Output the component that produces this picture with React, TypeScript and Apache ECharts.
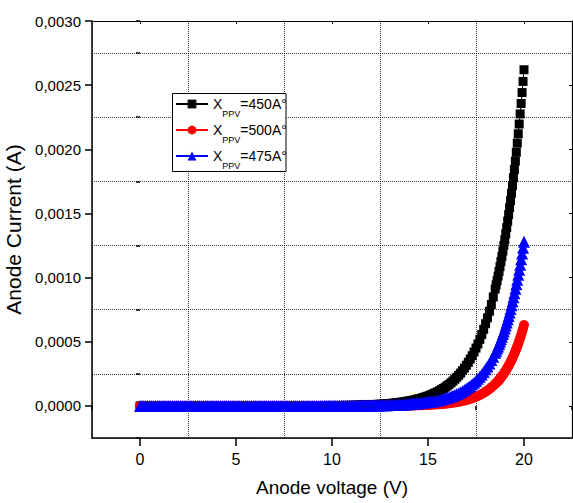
import React, { useEffect, useRef } from "react";
import * as echarts from "echarts";

// Axis ticks
const voltageTicks = [0, 5, 10, 15, 20];
const currentTicks = [0, 0.0005, 0.001, 0.0015, 0.002, 0.0025, 0.003];

// Series: PPV layer thickness (Å)
const thicknesses = ["450", "500", "475"];
const seriesColors = ["#000000", "#ff0000", "#0000ff"];
const seriesSymbols = ["rect", "circle", "triangle"];
const symbolSizes = [9, 10, 12];

// Voltage sweep: 0 – 18.5 V in 0.1 V steps, then 18.55 – 20 V in 0.05 V steps
const coarseStepV = 0.1;
const coarseCount = 186;
const fineStartV = 18.5;
const fineStepV = 0.05;

// Anode current in µA, one value per sweep point
const current450uA = [
  0, 0, 0, 0, 0, 0, 0, 0, 0, 0,
  0, 0, 0, 0, 0, 0, 0, 0, 0, 0,
  0, 0, 0, 0, 0, 0, 0, 0, 0, 0,
  0, 0, 0, 0, 0, 0, 0, 0, 0, 0,
  0, 0, 0, 0, 0, 0, 0, 0, 0, 0,
  0, 0, 0, 0, 0, 0, 0, 0, 0, 0,
  0, 0, 0, 0, 0, 0, 0, 0, 0, 0,
  0, 0, 0, 0, 0, 0, 0, 0, 0, 0,
  1, 1, 1, 1, 1, 1, 1, 1, 1, 1,
  1, 1, 1, 1, 2, 2, 2, 2, 2, 2,
  2, 2, 3, 3, 3, 3, 4, 4, 4, 4,
  5, 5, 5, 6, 6, 7, 7, 8, 8, 9,
  9, 10, 11, 12, 12, 13, 14, 15, 16, 18,
  19, 20, 22, 23, 25, 27, 29, 31, 33, 36,
  38, 41, 44, 47, 51, 55, 58, 63, 67, 72,
  77, 83, 89, 96, 103, 110, 118, 127, 136, 146,
  157, 168, 180, 194, 208, 223, 239, 256, 275, 295,
  317, 340, 365, 391, 420, 451, 483, 519, 556, 597,
  641, 687, 738, 791, 849, 911,
  944, 977, 1012, 1049, 1086, 1125, 1166, 1207, 1251, 1295,
  1342, 1390, 1440, 1491, 1545, 1600, 1658, 1717, 1779, 1842,
  1908, 1977, 2048, 2121, 2197, 2276, 2357, 2442, 2529, 2620,
];

const current500uA = [
  0, 0, 0, 0, 0, 0, 0, 0, 0, 0,
  0, 0, 0, 0, 0, 0, 0, 0, 0, 0,
  0, 0, 0, 0, 0, 0, 0, 0, 0, 0,
  0, 0, 0, 0, 0, 0, 0, 0, 0, 0,
  0, 0, 0, 0, 0, 0, 0, 0, 0, 0,
  0, 0, 0, 0, 0, 0, 0, 0, 0, 0,
  0, 0, 0, 0, 0, 0, 0, 0, 0, 0,
  0, 0, 0, 0, 0, 0, 0, 0, 0, 0,
  0, 0, 0, 0, 0, 0, 0, 0, 0, 0,
  0, 0, 0, 0, 0, 0, 0, 0, 0, 0,
  0, 0, 0, 0, 0, 0, 0, 0, 0, 0,
  0, 0, 0, 0, 0, 0, 0, 0, 1, 1,
  1, 1, 1, 1, 1, 1, 1, 1, 1, 1,
  1, 2, 2, 2, 2, 2, 2, 3, 3, 3,
  3, 4, 4, 4, 5, 5, 6, 6, 7, 7,
  8, 9, 10, 11, 12, 13, 14, 15, 16, 18,
  19, 21, 23, 25, 28, 30, 33, 36, 39, 43,
  46, 51, 55, 60, 66, 72, 78, 85, 93, 101,
  111, 121, 132, 144, 157, 171,
  179, 186, 195, 203, 212, 222, 232, 242, 253, 264,
  276, 288, 301, 314, 328, 343, 358, 374, 391, 408,
  426, 445, 465, 485, 507, 529, 553, 578, 603, 630,
];

const current475uA = [
  0, 0, 0, 0, 0, 0, 0, 0, 0, 0,
  0, 0, 0, 0, 0, 0, 0, 0, 0, 0,
  0, 0, 0, 0, 0, 0, 0, 0, 0, 0,
  0, 0, 0, 0, 0, 0, 0, 0, 0, 0,
  0, 0, 0, 0, 0, 0, 0, 0, 0, 0,
  0, 0, 0, 0, 0, 0, 0, 0, 0, 0,
  0, 0, 0, 0, 0, 0, 0, 0, 0, 0,
  0, 0, 0, 0, 0, 0, 0, 0, 0, 0,
  0, 0, 0, 0, 0, 0, 0, 0, 0, 0,
  0, 0, 0, 0, 0, 0, 1, 1, 1, 1,
  1, 1, 1, 1, 1, 1, 1, 1, 1, 1,
  2, 2, 2, 2, 2, 2, 2, 3, 3, 3,
  3, 3, 4, 4, 4, 5, 5, 5, 6, 6,
  7, 7, 8, 8, 9, 10, 10, 11, 12, 13,
  14, 15, 16, 18, 19, 21, 22, 24, 26, 28,
  30, 32, 35, 37, 40, 43, 47, 51, 54, 59,
  63, 68, 74, 79, 86, 92, 99, 107, 115, 124,
  134, 145, 156, 168, 181, 195, 211, 227, 245, 264,
  285, 307, 331, 357, 384, 414,
  430, 447, 464, 482, 500, 519, 539, 560, 581, 604,
  627, 651, 676, 701, 728, 756, 785, 815, 847, 879,
  913, 948, 984, 1022, 1061, 1101, 1144, 1187, 1233, 1280,
];

const seriesCurrents = [current450uA, current500uA, current475uA];

const TICK_FONT = "'Liberation Sans', Arial, sans-serif";
const TITLE_FONT = "'Liberation Sans', Arial, sans-serif";

function sweepVoltage(index: number): number {
  if (index < coarseCount) return Math.round(index * coarseStepV * 100) / 100;
  return Math.round((fineStartV + (index - coarseCount + 1) * fineStepV) * 100) / 100;
}

function buildOption() {
  const gridLine = { show: true, lineStyle: { color: "#3a3a3a", type: [1, 1] as any, width: 1 } };
  const axisLine = { show: true, onZero: false, lineStyle: { color: "#000", width: 1.5 } };

  const series = thicknesses.map((t, s) => ({
    name: t,
    type: "line" as const,
    xAxisIndex: 0,
    yAxisIndex: 0,
    symbol: seriesSymbols[s],
    symbolSize: symbolSizes[s],
    showSymbol: true,
    showAllSymbol: true,
    color: seriesColors[s],
    itemStyle: { color: seriesColors[s] },
    lineStyle: { color: seriesColors[s], width: 1 },
    data: seriesCurrents[s].map((uA, i) => [sweepVoltage(i), uA * 1e-6]),
    z: 2 + s,
  }));

  return {
    animation: false,
    backgroundColor: "#ffffff",
    grid: { left: 92, right: 1, top: 21, bottom: 65, containLabel: false, outerBoundsMode: "none" },
    xAxis: [
      {
        type: "value",
        position: "bottom",
        min: -2.5,
        max: 22.5,
        axisLine,
        axisTick: { show: true, customValues: voltageTicks, length: 8, lineStyle: { color: "#000", width: 1.5 } },
        axisLabel: {
          show: true,
          customValues: voltageTicks,
          margin: 13,
          color: "#000",
          fontFamily: TICK_FONT,
          fontSize: 16,
          formatter: (v: number) => String(v),
        },
        splitLine: { show: false },
        name: "Anode voltage (V)",
        nameLocation: "middle",
        nameGap: 40,
        nameTextStyle: { color: "#000", fontFamily: TITLE_FONT, fontSize: 19 },
      },
      {
        type: "value",
        position: "bottom",
        min: -2.5,
        max: 22.5,
        interval: 5,
        axisLine: { show: false },
        axisTick: { show: true, length: 4, lineStyle: { color: "#000", width: 1.5 } },
        axisLabel: { show: false },
        splitLine: gridLine,
      },
      {
        type: "value",
        position: "top",
        min: -2.5,
        max: 22.5,
        axisLine: { ...axisLine, lineStyle: { color: "#000", width: 1.2 } },
        axisTick: { show: true, inside: true, customValues: voltageTicks, length: 3, lineStyle: { color: "#000" } },
        axisLabel: { show: false },
        splitLine: { show: false },
      },
    ],
    yAxis: [
      {
        type: "value",
        position: "left",
        min: -0.00025,
        max: 0.003,
        axisLine,
        axisTick: { show: true, customValues: currentTicks, length: 7, lineStyle: { color: "#000", width: 1.5 } },
        axisLabel: {
          show: true,
          customValues: currentTicks,
          margin: 11,
          color: "#000",
          fontFamily: TICK_FONT,
          fontSize: 15,
          formatter: (v: number) => v.toFixed(4).replace(".", ","),
        },
        splitLine: { show: false },
        name: "Anode Current (A)",
        nameLocation: "middle",
        nameGap: 52,
        nameRotate: 90,
        nameTextStyle: { color: "#000", fontFamily: TITLE_FONT, fontSize: 21 },
      },
      {
        type: "value",
        position: "left",
        min: -0.00025,
        max: 0.003,
        interval: 0.0005,
        axisLine: { show: false },
        axisTick: { show: true, length: 4, lineStyle: { color: "#000", width: 1.5 } },
        axisLabel: { show: false },
        splitLine: gridLine,
      },
      {
        type: "value",
        position: "right",
        min: -0.00025,
        max: 0.003,
        axisLine: { ...axisLine, lineStyle: { color: "#000", width: 1.2 } },
        axisTick: { show: true, inside: true, customValues: currentTicks, length: 3, lineStyle: { color: "#000" } },
        axisLabel: { show: false },
        splitLine: { show: false },
      },
    ],
    legend: {
      orient: "vertical",
      left: 175,
      top: 90,
      padding: 0,
      itemWidth: 32,
      itemHeight: 11,
      itemGap: -2,
      z: 5,
      data: thicknesses,
      formatter: (name: string) => `{x|X}{s|PPV}{v|=${name}A°}`,
      textStyle: {
        color: "#000",
        rich: {
          x: { fontFamily: TICK_FONT, fontSize: 14, color: "#000", lineHeight: 20 },
          s: { fontFamily: TICK_FONT, fontSize: 9, color: "#000", lineHeight: 10, padding: [19, 0, 0, 0] },
          v: { fontFamily: TICK_FONT, fontSize: 14, color: "#000", lineHeight: 20 },
        },
      },
    },
    graphic: [
      {
        type: "rect",
        z: 4,
        shape: { x: 172.5, y: 93.5, width: 113.5, height: 78 },
        style: { fill: "#ffffff", stroke: "#000000", lineWidth: 1 },
      },
    ],
    series,
  };
}

export default function App() {
  const ref = useRef<HTMLDivElement>(null);
  useEffect(() => {
    if (!ref.current) return;
    const chart = echarts.init(ref.current, undefined, { renderer: "svg" });
    chart.setOption(buildOption() as any);
    return () => chart.dispose();
  }, []);
  return (
    <div
      ref={ref}
      style={{ position: "absolute", left: 0, top: 0, width: 573, height: 503, background: "#fff" }}
    />
  );
}
